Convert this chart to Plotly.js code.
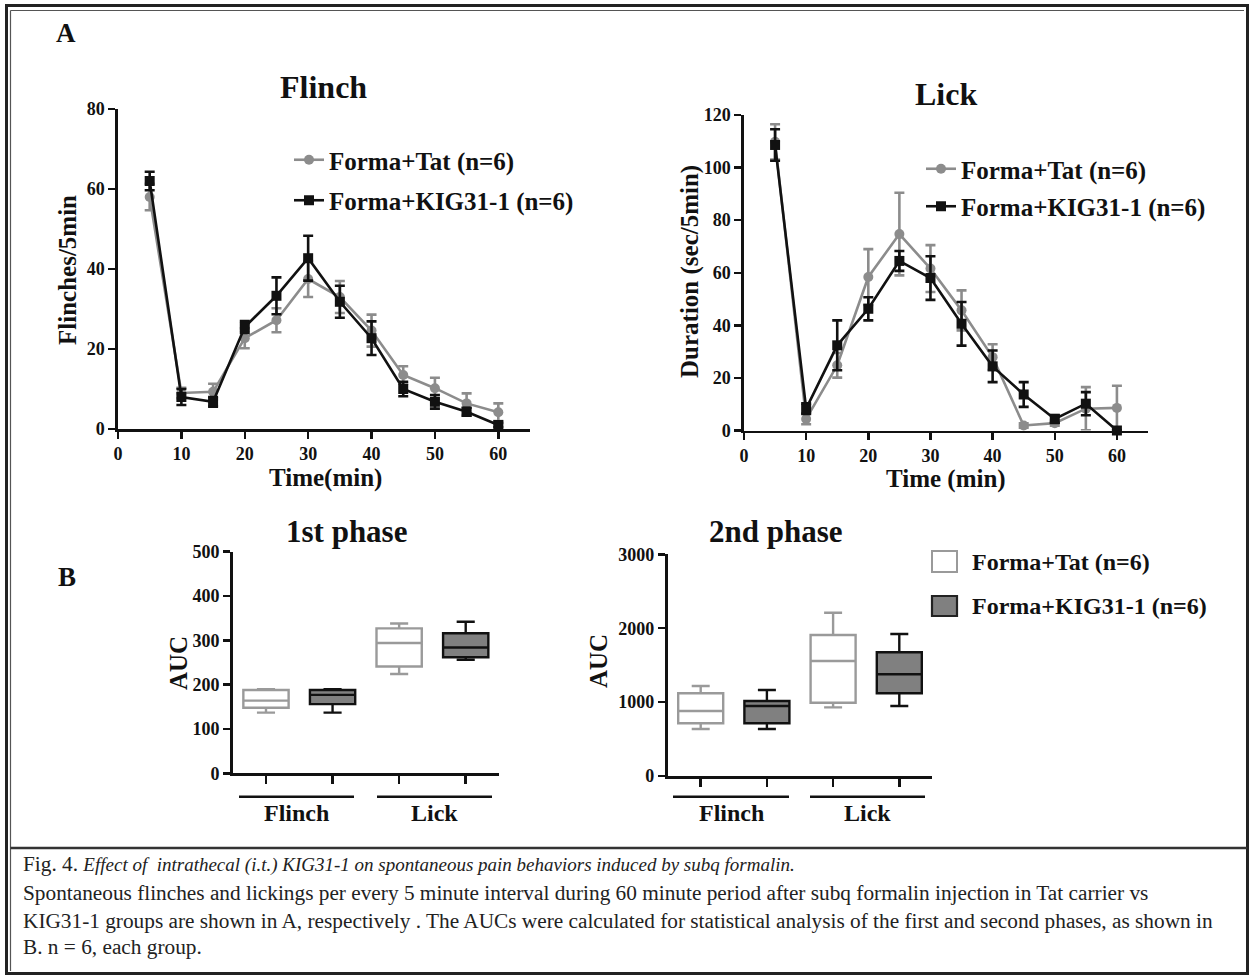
<!DOCTYPE html>
<html>
<head>
<meta charset="utf-8">
<script src="https://cdn.plot.ly/plotly-3.0.1.min.js"></script>
<style>
  html, body { margin: 0; padding: 0; background: #fff; }
  #chart { width: 1249px; height: 976px; }
</style>
</head>
<body>
<div id="chart"></div>
<script>
// ---------------- DATA ----------------
const timeMin = [5, 10, 15, 20, 25, 30, 35, 40, 45, 50, 55, 60];

const flinchTat    = [58, 9, 9.3, 22.7, 27.2, 37.5, 33, 24.6, 13.5, 10.2, 6.4, 4.2];
const flinchTatErr = [3.3, 1.3, 2, 2.5, 3, 4.5, 4, 4, 2.2, 2.6, 2.5, 2.2];
const flinchKig    = [62, 8, 6.8, 25.5, 33.3, 42.7, 31.8, 22.7, 10, 6.8, 4.3, 1];
const flinchKigErr = [2.3, 2, 1.2, 1.5, 4.6, 5.6, 4, 4.2, 1.8, 1.7, 1, 0.5];

const lickTat    = [109.8, 4.4, 24.8, 58.4, 74.7, 61.6, 45.7, 27.9, 1.9, 2.8, 8.3, 8.6];
const lickTatErr = [6.7, 2, 4.7, 10.6, 15.7, 8.9, 7.6, 4.9, 0.8, 1, 8.2, 8.4];
const lickKig    = [108.6, 8.3, 32.4, 46.3, 64.5, 58, 40.6, 24.4, 13.7, 4.4, 10.2, 0];
const lickKigErr = [6, 2, 9.5, 4.4, 3.8, 8.3, 8.3, 6, 4.7, 1.5, 4.4, 0];

// Box plots: [Flinch, Lick] per group
const boxTatPos = [0, 2];
const boxKigPos = [1, 3];
// 1st phase AUC
const p1TatLow = [137, 224], p1TatQ1 = [148, 241], p1TatMed = [164, 294], p1TatQ3 = [188, 327], p1TatHigh = [190, 338];
const p1KigLow = [137, 256], p1KigQ1 = [156, 262], p1KigMed = [177, 284], p1KigQ3 = [188, 316], p1KigHigh = [190, 342];
// 2nd phase AUC
const p2TatLow = [636, 929], p2TatQ1 = [713, 992], p2TatMed = [880, 1556], p2TatQ3 = [1119, 1908], p2TatHigh = [1218, 2210];
const p2KigLow = [636, 947], p2KigQ1 = [713, 1119], p2KigMed = [947, 1376], p2KigQ3 = [1015, 1674], p2KigHigh = [1164, 1922];

const nameTat = 'Forma+Tat (n=6)';
const nameKig = 'Forma+KIG31-1 (n=6)';
const groupLabels = ['Flinch', 'Lick'];
const captionLines = [
  'Fig. 4. <span style="font-size:19px"><i>Effect of  intrathecal (i.t.) KIG31-1 on spontaneous pain behaviors induced by subq formalin.</i></span>',
  'Spontaneous flinches and lickings per every 5 minute interval during 60 minute period after subq formalin injection in Tat carrier vs',
  'KIG31-1 groups are shown in A, respectively . The AUCs were calculated for statistical analysis of the first and second phases, as shown in',
  'B. n = 6, each group.'
];

// ---------------- STYLE ----------------
const W = 1249, H = 976;
const X = p => p / W;
const Y = p => 1 - p / H;
const SERIF = '"Liberation Serif", "Times New Roman", serif';
const GRAY = '#8c8c8c';
const BLACK = '#111111';
const tickFont = { family: SERIF, size: 18, color: BLACK, weight: 700 };

function lineTrace(x, y, err, name, color, symbol, xa, ya, legend, show) {
  return {
    type: 'scatter', mode: 'lines+markers', x: x, y: y, name: name,
    xaxis: xa, yaxis: ya, legend: legend, showlegend: show, legendgroup: name + legend,
    line: { color: color, width: 2.6 },
    marker: { color: color, symbol: symbol, size: 10, line: { width: 0 } },
    error_y: { type: 'data', array: err, visible: true, color: color, thickness: 2.6, width: 5 },
    cliponaxis: false
  };
}
function boxTrace(pos, lo, q1, med, q3, hi, line, fill, xa, ya) {
  return {
    type: 'box', x: pos, lowerfence: lo, q1: q1, median: med, q3: q3, upperfence: hi,
    xaxis: xa, yaxis: ya, showlegend: false, boxpoints: false,
    width: 0.68, whiskerwidth: 0.4,
    line: { color: line, width: 2.4 }, fillcolor: fill
  };
}

const data = [
  lineTrace(timeMin, flinchTat, flinchTatErr, nameTat, GRAY, 'circle', 'x', 'y', 'legend', true),
  lineTrace(timeMin, flinchKig, flinchKigErr, nameKig, BLACK, 'square', 'x', 'y', 'legend', true),
  lineTrace(timeMin, lickTat, lickTatErr, nameTat, GRAY, 'circle', 'x2', 'y2', 'legend2', true),
  lineTrace(timeMin, lickKig, lickKigErr, nameKig, BLACK, 'square', 'x2', 'y2', 'legend2', true),
  boxTrace(boxTatPos, p1TatLow, p1TatQ1, p1TatMed, p1TatQ3, p1TatHigh, '#9a9a9a', '#ffffff', 'x3', 'y3'),
  boxTrace(boxKigPos, p1KigLow, p1KigQ1, p1KigMed, p1KigQ3, p1KigHigh, BLACK, '#808080', 'x3', 'y3'),
  boxTrace(boxTatPos, p2TatLow, p2TatQ1, p2TatMed, p2TatQ3, p2TatHigh, '#9a9a9a', '#ffffff', 'x4', 'y4'),
  boxTrace(boxKigPos, p2KigLow, p2KigQ1, p2KigMed, p2KigQ3, p2KigHigh, BLACK, '#808080', 'x4', 'y4')
];

function axisBase(extra) {
  return Object.assign({
    showline: true, linecolor: BLACK, linewidth: 2.7, mirror: false,
    showgrid: false, zeroline: false, ticks: 'outside', ticklen: 7, tickwidth: 2.5,
    tickcolor: BLACK, tickfont: tickFont, fixedrange: true
  }, extra);
}

const layout = {
  width: W, height: H, margin: { l: 0, r: 0, t: 0, b: 0 },
  paper_bgcolor: '#ffffff', plot_bgcolor: 'rgba(0,0,0,0)',
  showlegend: true, boxmode: 'overlay',
  xaxis:  axisBase({ domain: [X(118), X(530)], range: [0, 65], tickvals: [0, 10, 20, 30, 40, 50, 60], anchor: 'y' }),
  yaxis:  axisBase({ domain: [Y(429), Y(109)], range: [0, 80], dtick: 20, anchor: 'x' }),
  xaxis2: axisBase({ domain: [X(744), X(1148)], range: [0, 65], tickvals: [0, 10, 20, 30, 40, 50, 60], anchor: 'y2' }),
  yaxis2: axisBase({ domain: [Y(430.5), Y(115)], range: [0, 120], dtick: 20, anchor: 'x2' }),
  xaxis3: axisBase({ domain: [X(232.7), X(499)], range: [-0.5, 3.5], tickvals: [0, 1, 2, 3], showticklabels: false, ticklen: 8, anchor: 'y3' }),
  yaxis3: axisBase({ domain: [Y(773.3), Y(551.7)], range: [0, 500], dtick: 100, anchor: 'x3' }),
  xaxis4: axisBase({ domain: [X(667.6), X(932.4)], range: [-0.5, 3.5], tickvals: [0, 1, 2, 3], showticklabels: false, ticklen: 8, anchor: 'y4' }),
  yaxis4: axisBase({ domain: [Y(776), Y(554.3)], range: [0, 3000], dtick: 1000, anchor: 'x4' }),
  legend: {
    x: X(289), y: Y(137), xanchor: 'left', yanchor: 'top', bgcolor: 'rgba(0,0,0,0)',
    font: { family: SERIF, size: 25, color: BLACK, weight: 700 }, tracegroupgap: 5, traceorder: 'grouped'
  },
  legend2: {
    x: X(921), y: Y(146), xanchor: 'left', yanchor: 'top', bgcolor: 'rgba(0,0,0,0)',
    font: { family: SERIF, size: 25, color: BLACK, weight: 700 }, tracegroupgap: 2, traceorder: 'grouped'
  },
  shapes: [],
  annotations: []
};

const ann = (text, xp, yp, size, opts) => Object.assign({
  text: text, x: X(xp), y: Y(yp), xref: 'paper', yref: 'paper', showarrow: false,
  xanchor: 'center', yanchor: 'middle',
  font: { family: SERIF, size: size, color: BLACK, weight: 700 }
}, opts || {});

// Titles and labels
layout.annotations.push(
  ann('A', 66, 33, 27),
  ann('B', 67, 577, 27),
  ann('Flinch', 323, 87, 32),
  ann('Lick', 946, 94, 32),
  ann('1st phase', 346, 531, 31),
  ann('2nd phase', 776, 531, 31),
  ann('Flinches/5min', 67, 270, 25, { textangle: -90 }),
  ann('Time(min)', 325, 478, 25),
  ann('Duration (sec/5min)', 690, 272, 25, { textangle: -90 }),
  ann('Time (min)', 946, 479, 25),
  ann('AUC', 178, 663, 25, { textangle: -90 }),
  ann('AUC', 598, 661, 25, { textangle: -90 })
);

// Group bars under box plots
const groupSpans = [
  [[239, 354], [377, 492], 796.7, 813],
  [[673, 789], [810, 925], 796.7, 813]
];
groupSpans.forEach(g => {
  [g[0], g[1]].forEach((span, i) => {
    layout.shapes.push({ type: 'line', xref: 'paper', yref: 'paper',
      x0: X(span[0]), x1: X(span[1]), y0: Y(g[2]), y1: Y(g[2]),
      line: { color: BLACK, width: 2.5 } });
    layout.annotations.push(ann(groupLabels[i], (span[0] + span[1]) / 2, g[3], 24));
  });
});

// Box legend (drawn)
layout.shapes.push(
  { type: 'rect', xref: 'paper', yref: 'paper', x0: X(932), x1: X(957), y0: Y(551), y1: Y(572),
    line: { color: '#9a9a9a', width: 2 }, fillcolor: '#ffffff' },
  { type: 'rect', xref: 'paper', yref: 'paper', x0: X(932), x1: X(957), y0: Y(596), y1: Y(616),
    line: { color: '#222', width: 2.2 }, fillcolor: '#808080' }
);
layout.annotations.push(
  ann(nameTat, 970, 562, 24, { xanchor: 'left' }),
  ann(nameKig, 970, 606, 24, { xanchor: 'left' })
);

// Frame
layout.shapes.push(
  { type: 'rect', xref: 'paper', yref: 'paper', x0: X(6.5), x1: X(1247.5), y0: Y(973.5), y1: Y(5.5),
    line: { color: '#222', width: 3 } },
  { type: 'line', xref: 'paper', yref: 'paper', x0: X(10.5), x1: X(1244), y0: Y(10.5), y1: Y(10.5),
    line: { color: '#555', width: 1.2 } },
  { type: 'line', xref: 'paper', yref: 'paper', x0: X(10.5), x1: X(10.5), y0: Y(10.5), y1: Y(971),
    line: { color: '#555', width: 1.2 } },
  { type: 'line', xref: 'paper', yref: 'paper', x0: X(10.5), x1: X(1247), y0: Y(848), y1: Y(848),
    line: { color: '#333', width: 2.6 } }
);

// Caption
const capY = [864, 893, 921, 947];
captionLines.forEach((t, i) => {
  layout.annotations.push({
    text: t, x: X(21), y: Y(capY[i]), xref: 'paper', yref: 'paper', showarrow: false,
    xanchor: 'left', yanchor: 'middle',
    font: { family: SERIF, size: 21.3, color: '#222' }
  });
});

Plotly.newPlot('chart', data, layout, { displayModeBar: false, staticPlot: true });
</script>
</body>
</html>
